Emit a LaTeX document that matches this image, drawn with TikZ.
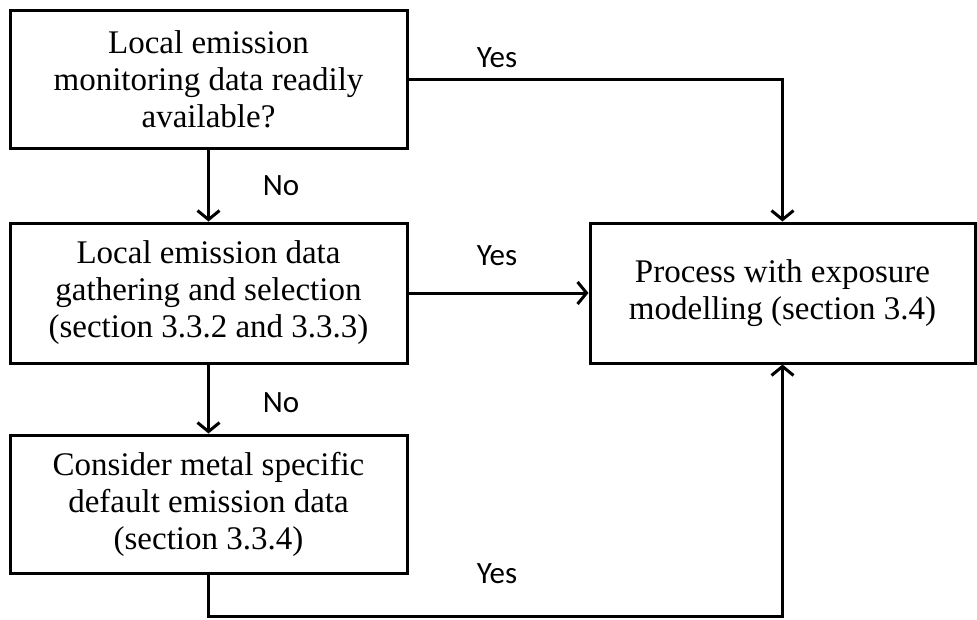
\documentclass[tikz,border=0pt]{standalone}
\usepackage{fontspec}
\setmainfont{Liberation Serif}
\newfontfamily\labfont{Carlito}
\usetikzlibrary{arrows.meta}
\begin{document}
\begin{tikzpicture}[x=1pt,y=-1pt,
  box/.style={draw, line width=3pt, align=center, inner sep=0pt,
    font=\fontsize{33}{37}\selectfont},
  conn/.style={line width=3pt, -{Straight Barb[length=9pt,width=22pt,line width=3pt]}},
  lab/.style={font=\labfont\fontsize{31}{31}\selectfont, inner sep=0pt}]
\useasboundingbox (0,0) rectangle (977,619);
\node[box, minimum width=397pt, minimum height=138pt] (b1) at (208.5,79)
  {Local emission\\monitoring data readily\\available?};
\node[box, minimum width=397pt, minimum height=140pt] (b2) at (208.5,293)
  {Local emission data\\gathering and selection\\(section 3.3.2 and 3.3.3)};
\node[box, minimum width=397pt, minimum height=138pt] (b3) at (208.5,504)
  {Consider metal specific\\default emission data\\(section 3.3.4)};
\node[box, minimum width=385pt, minimum height=140pt] (b4) at (782.5,293)
  {Process with exposure\\modelling (section 3.4)};
\draw[conn] (b1.south) -- (b2.north);
\draw[conn] (b2.south) -- (b3.north);
\draw[conn] (b1.east) -| (b4.north);
\draw[conn] (b2.east) -- (b4.west);
\coordinate (c1) at (208.5,616);
\draw[conn] (b3.south) -- (c1) -| (b4.south);
\node[lab] (n1) at (281,186) {No};
\node[lab] (n2) at (281,403) {No};
\node[lab] (y1) at (497,58) {Yes};
\node[lab] (y2) at (497,256) {Yes};
\node[lab] (y3) at (497,574) {Yes};
\end{tikzpicture}
\end{document}
